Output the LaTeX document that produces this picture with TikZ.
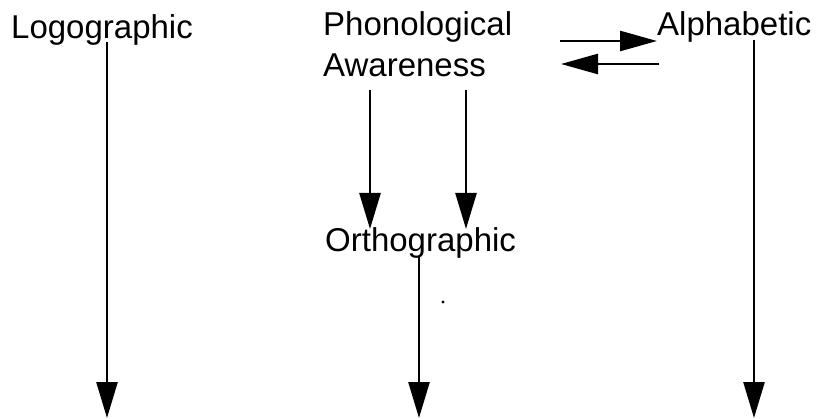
\documentclass[tikz,border=0pt]{standalone}
\usepackage{fontspec}
\setmainfont{Liberation Sans}
\usetikzlibrary{arrows.meta}
\begin{document}
\begin{tikzpicture}[x=1pt,y=-1pt,
  lbl/.style={anchor=base west,inner sep=0pt,font=\fontsize{33}{41}\selectfont,align=left},
  arr/.style={line width=2.6pt,-{Triangle[length=36pt,width=21pt]}},
  harr/.style={line width=2.6pt,-{Triangle[length=37pt,width=20pt]}}]
\useasboundingbox (0,0) rectangle (819,419);
\node[lbl] (logo) at (11,39) {Logographic};
\node[lbl] (phon) at (323,77) {Phonological\\Awareness};
\node[lbl] (alpha) at (657,36) {Alphabetic};
\node[lbl] (ortho) at (325,252) {Orthographic};
% coordinates
\coordinate (l1) at (107,42);
\coordinate (l2) at (107,418);
\coordinate (p1) at (370,90);
\coordinate (p1e) at (370,229);
\coordinate (p2) at (466,90);
\coordinate (p2e) at (466,229);
\coordinate (o1) at (419,257);
\coordinate (o2) at (419,418);
\coordinate (a1) at (754,40);
\coordinate (a2) at (754,418);
\coordinate (r1) at (560,41);
\coordinate (r2) at (657,41);
\coordinate (b1) at (659,64);
\coordinate (b2) at (561,64);
\draw[arr] (l1) -- (l2);
\draw[arr] (p1) -- (p1e);
\draw[arr] (p2) -- (p2e);
\draw[arr] (o1) -- (o2);
\draw[arr] (a1) -- (a2);
\draw[harr] (r1) -- (r2);
\draw[harr] (b1) -- (b2);
\fill (443,302) circle (1.6pt);
\end{tikzpicture}
\end{document}
